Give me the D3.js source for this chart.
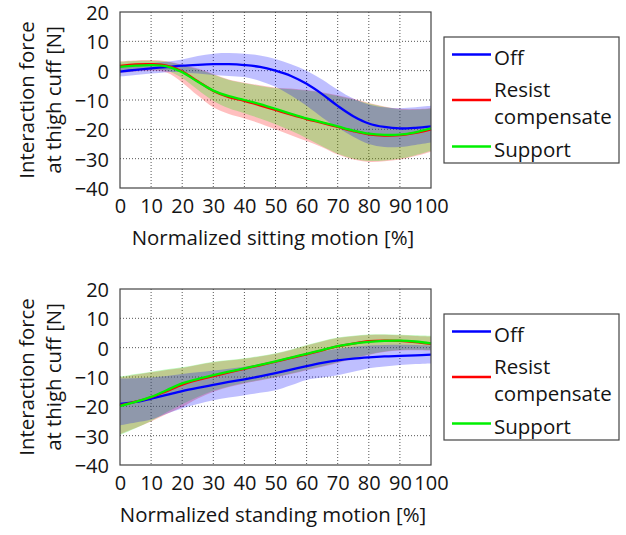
<!DOCTYPE html>
<html><head><meta charset="utf-8">
<script src="https://cdn.jsdelivr.net/npm/d3@7/dist/d3.min.js"></script>
<style>
body{margin:0;background:#fff;}
svg{display:block;}
text{font-family:"Open Sans",sans-serif;fill:#141414;}
</style></head>
<body>
<svg id="chart" width="626" height="535"></svg>
<script>
// ---------- DATA ----------
const xPct = [0,5,10,15,20,25,30,35,40,45,50,55,60,65,70,75,80,85,90,95,100];
const xTicks = [0,10,20,30,40,50,60,70,80,90,100];
const yTicks = [20,10,0,-10,-20,-30,-40];
const seriesNames = ["Off","Resist compensate","Support"];

// Sitting
const sitOffMean   = [-0.3,0.3,0.8,1.2,1.7,2.0,2.2,2.2,1.9,1.3,0.0,-1.8,-4.5,-8.0,-12.0,-15.5,-18.0,-19.2,-19.7,-19.5,-19.0];
const sitOffUpper  = [1.5,2.0,2.5,3.0,3.8,5.0,5.8,6.0,5.8,5.2,4.0,2.2,0.0,-3.0,-6.5,-9.5,-11.5,-12.5,-12.8,-12.5,-12.0];
const sitOffLower  = [-2.0,-1.5,-1.0,-0.5,-0.5,-1.0,-1.5,-1.8,-2.2,-3.5,-5.5,-8.5,-12.0,-16.0,-19.5,-22.5,-25.0,-26.0,-26.0,-25.3,-24.5];
const sitResMean   = [1.6,2.1,2.2,1.7,-0.3,-3.6,-6.9,-9.0,-10.3,-11.8,-13.4,-15.0,-16.5,-17.8,-19.2,-20.6,-21.7,-22.1,-22.0,-21.2,-20.0];
const sitResUpper  = [3.2,3.5,3.6,3.2,2.0,0.7,-1.1,-3.0,-4.1,-5.0,-5.8,-6.1,-6.6,-7.4,-8.4,-9.6,-11.0,-12.2,-13.0,-13.1,-12.8];
const sitResLower  = [-0.8,-0.3,0.0,-0.6,-4.0,-8.5,-12.5,-14.8,-16.3,-18.0,-20.0,-22.0,-24.0,-26.1,-28.6,-30.3,-31.1,-30.9,-30.3,-29.1,-27.6];
const sitSupMean   = [1.3,1.7,1.9,1.5,-0.5,-3.8,-6.8,-8.7,-10.0,-11.4,-13.0,-14.7,-16.3,-17.6,-19.0,-20.4,-21.5,-21.9,-21.8,-21.0,-19.7];
const sitSupUpper  = [3.0,3.3,3.4,3.0,1.8,0.5,-1.3,-3.2,-4.3,-5.2,-6.0,-6.3,-6.8,-7.6,-8.6,-9.8,-11.2,-12.4,-13.2,-13.3,-13.0];
const sitSupLower  = [-0.5,0.0,0.3,0.0,-2.5,-6.5,-10.3,-12.8,-14.5,-16.3,-18.3,-20.5,-23.0,-25.8,-28.3,-30.0,-30.8,-30.6,-30.0,-28.8,-27.3];

// Standing
const stdOffMean   = [-19.2,-18.5,-17.4,-16.1,-14.8,-13.7,-12.7,-11.7,-10.8,-9.8,-8.7,-7.5,-6.3,-5.2,-4.3,-3.7,-3.3,-3.0,-2.8,-2.6,-2.4];
const stdOffUpper  = [-10.5,-10.4,-10.2,-9.7,-9.0,-8.4,-7.8,-7.2,-6.5,-5.6,-4.6,-3.5,-2.3,-1.3,-0.4,0.3,0.7,0.9,1.0,0.9,0.7];
const stdOffLower  = [-26.5,-25.5,-24.5,-22.5,-20.7,-19.2,-17.9,-17.0,-16.2,-15.4,-14.5,-12.8,-11.0,-10.2,-9.4,-8.2,-7.0,-6.4,-5.9,-5.6,-5.4];
const stdResMean   = [-19.7,-18.4,-16.9,-14.8,-12.6,-11.0,-9.7,-8.4,-7.2,-6.0,-4.8,-3.5,-2.3,-0.9,0.4,1.4,2.2,2.4,2.3,1.9,1.3];
const stdResUpper  = [-10.1,-9.2,-8.4,-7.6,-6.9,-5.9,-5.0,-4.4,-3.8,-3.0,-2.1,-0.8,0.7,2.1,3.3,3.9,4.3,4.4,4.2,4.0,3.8];
const stdResLower  = [-29.5,-27.4,-25.2,-22.6,-20.2,-17.3,-15.0,-13.4,-12.2,-11.2,-10.2,-9.0,-7.7,-6.5,-5.2,-3.8,-2.5,-1.5,-1.0,-0.9,-1.0];
const stdSupMean   = [-19.9,-18.5,-16.8,-14.5,-12.2,-10.7,-9.4,-8.2,-7.1,-5.9,-4.7,-3.4,-2.1,-0.8,0.5,1.4,2.0,2.3,2.4,2.1,1.5];
const stdSupUpper  = [-9.9,-9.0,-8.2,-7.4,-6.7,-5.7,-4.8,-4.2,-3.6,-2.8,-1.9,-0.6,0.9,2.3,3.5,4.1,4.5,4.6,4.4,4.2,4.0];
const stdSupLower  = [-29.8,-27.5,-25.0,-22.0,-19.3,-16.8,-14.7,-13.2,-12.0,-11.0,-10.0,-8.8,-7.5,-6.3,-5.0,-3.6,-2.3,-1.3,-0.8,-0.7,-0.8];

const colors = ["#0000ff","#ff0000","#00f000"];

// ---------- DRAW ----------
const svg = d3.select("#chart");

function panel(cfg){
  const g = svg.append("g").attr("transform",`translate(0,${cfg.top})`);
  const x = d3.scaleLinear().domain([0,100]).range([120,431]);
  const y = d3.scaleLinear().domain([-40,20]).range([176,0]);

  // grid
  g.append("g").selectAll("line").data(xTicks.slice(1,-1)).join("line")
    .attr("x1",d=>x(d)).attr("x2",d=>x(d)).attr("y1",y(20)).attr("y2",y(-40))
    .attr("stroke","#555").attr("stroke-width",1).attr("stroke-dasharray","1,2");
  g.append("g").selectAll("line").data(yTicks.slice(1,-1)).join("line")
    .attr("y1",d=>y(d)).attr("y2",d=>y(d)).attr("x1",x(0)).attr("x2",x(100))
    .attr("stroke","#555").attr("stroke-width",1).attr("stroke-dasharray","1,2");

  const sets = [
    {m:cfg.off, u:cfg.offU, l:cfg.offL},
    {m:cfg.res, u:cfg.resU, l:cfg.resL},
    {m:cfg.sup, u:cfg.supU, l:cfg.supL}
  ];
  const curve = d3.curveCatmullRom.alpha(0.5);
  const area = (u,l)=>d3.area().curve(curve)
    .x((d,i)=>x(xPct[i])).y0((d,i)=>y(l[i])).y1((d,i)=>y(u[i]));
  const line = d3.line().curve(curve).x((d,i)=>x(xPct[i])).y(d=>y(d));

  // bands: red, green, then blue on top
  [1,2,0].forEach(k=>{
    const s = sets[k];
    g.append("path").datum(s.m).attr("d",area(s.u,s.l))
      .attr("fill",colors[k]).attr("fill-opacity",0.25).attr("stroke","none");
  });
  [0,1,2].forEach(k=>{
    g.append("path").datum(sets[k].m).attr("d",line)
      .attr("fill","none").attr("stroke",colors[k]).attr("stroke-width",2.3);
  });

  // frame
  g.append("rect").attr("x",x(0)).attr("y",y(20)).attr("width",x(100)-x(0)).attr("height",y(-40)-y(20))
    .attr("fill","none").attr("stroke","#444").attr("stroke-width",1.2);

  // axes
  const ax = g.append("g").attr("transform",`translate(0,${y(-40)})`)
    .call(d3.axisBottom(x).tickValues(xTicks).tickSize(0).tickPadding(11).tickFormat(d3.format("d")));
  ax.select(".domain").remove();
  ax.selectAll("text").attr("font-size",20).attr("font-family","Open Sans").attr("fill","#141414");
  const ay = g.append("g").attr("transform",`translate(${x(0)},0)`)
    .call(d3.axisLeft(y).tickValues(yTicks).tickSize(0).tickPadding(11).tickFormat(d3.format("d")));
  ay.select(".domain").remove();
  ay.selectAll("text").attr("font-size",20).attr("font-family","Open Sans").attr("fill","#141414").attr("dy","0.38em");

  g.append("text").attr("x",273).attr("y",233).attr("text-anchor","middle")
    .attr("font-size",20.4).text(cfg.xTitle);
  const cy = (y(20)+y(-40))/2;
  g.append("text").attr("transform",`translate(34,${cy}) rotate(-90)`).attr("text-anchor","middle")
    .attr("font-size",20.4).text("Interaction force");
  g.append("text").attr("transform",`translate(61,${cy}) rotate(-90)`).attr("text-anchor","middle")
    .attr("font-size",20.4).text("at thigh cuff [N]");

  // legend
  const lg = g.append("g");
  lg.append("rect").attr("x",444).attr("y",25).attr("width",175).attr("height",126)
    .attr("fill","#fff").attr("stroke","#444").attr("stroke-width",1.2);
  const legLines = [{c:colors[0], ly:42.5},{c:colors[1], ly:88},{c:colors[2], ly:134.5}];
  lg.selectAll("line").data(legLines).join("line")
    .attr("x1",452).attr("x2",491).attr("y1",d=>d.ly).attr("y2",d=>d.ly)
    .attr("stroke",d=>d.c).attr("stroke-width",2.3);
  lg.selectAll("text").data([
    {t:"Off",y:53},{t:"Resist",y:85},{t:"compensate",y:112},{t:"Support",y:145}
  ]).join("text").attr("x",494).attr("y",d=>d.y).attr("font-size",20.5).text(d=>d.t);
}

panel({top:12, off:sitOffMean, offU:sitOffUpper, offL:sitOffLower,
  res:sitResMean, resU:sitResUpper, resL:sitResLower,
  sup:sitSupMean, supU:sitSupUpper, supL:sitSupLower,
  xTitle:"Normalized sitting motion [%]"});
panel({top:289, off:stdOffMean, offU:stdOffUpper, offL:stdOffLower,
  res:stdResMean, resU:stdResUpper, resL:stdResLower,
  sup:stdSupMean, supU:stdSupUpper, supL:stdSupLower,
  xTitle:"Normalized standing motion [%]"});
</script>
</body></html>
